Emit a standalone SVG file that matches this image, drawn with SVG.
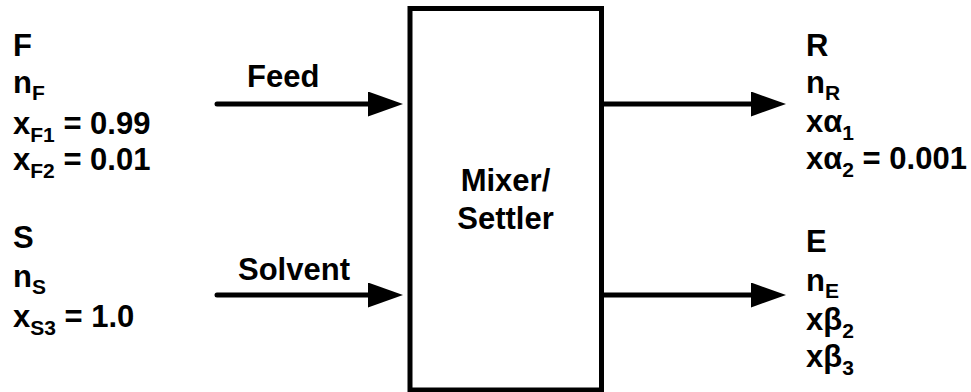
<svg xmlns="http://www.w3.org/2000/svg" width="971" height="392" viewBox="0 0 971 392">
<defs>
<style>
text{font-family:"Liberation Sans",Arial,sans-serif;font-weight:bold;fill:#000}
.t{font-size:31px}
.s{font-size:21px}
.c{text-anchor:middle}
.ln{stroke:#000;stroke-width:5;fill:none;stroke-linecap:round}
.box{stroke:#000;stroke-width:5;fill:#fff}
</style>
<marker id="ah" markerUnits="userSpaceOnUse" markerWidth="35" markerHeight="25" refX="5" refY="12.5" orient="auto">
<path d="M0,0 L35,12.5 L0,25 Z" fill="#000"/>
</marker>
</defs>
<g id="connectors">
<line class="ln" x1="217" y1="104" x2="373" y2="104" marker-end="url(#ah)"/>
<line class="ln" x1="217" y1="295" x2="373" y2="295" marker-end="url(#ah)"/>
<line class="ln" x1="604" y1="104" x2="756" y2="104" marker-end="url(#ah)"/>
<line class="ln" x1="604" y1="295" x2="756" y2="295" marker-end="url(#ah)"/>
<text class="t" x="247" y="87">Feed</text>
<text class="t" x="238" y="280">Solvent</text>
</g>
<g id="mixer-settler">
<rect class="box" x="410" y="8.5" width="191.5" height="381.5"/>
<text class="t c" x="505.5" y="191">Mixer/</text>
<text class="t c" x="505.5" y="229">Settler</text>
</g>
<g id="feed-stream">
<text class="t" x="13" y="56">F</text>
<text class="t" x="13" y="93">n<tspan class="s" dy="7">F</tspan></text>
<text class="t" x="13" y="134">x<tspan class="s" dy="8">F1</tspan><tspan dy="-8"> = 0.99</tspan></text>
<text class="t" x="13" y="170">x<tspan class="s" dy="8">F2</tspan><tspan dy="-8"> = 0.01</tspan></text>
</g>
<g id="solvent-stream">
<text class="t" x="13" y="248">S</text>
<text class="t" x="13" y="287">n<tspan class="s" dy="7">S</tspan></text>
<text class="t" x="13" y="327">x<tspan class="s" dy="8">S3</tspan><tspan dy="-8"> = 1.0</tspan></text>
</g>
<g id="raffinate-stream">
<text class="t" x="806" y="56">R</text>
<text class="t" x="806" y="93">n<tspan class="s" dy="7">R</tspan></text>
<text class="t" x="806" y="132">xα<tspan class="s" dy="8">1</tspan></text>
<text class="t" x="806" y="169">xα<tspan class="s" dy="8">2</tspan><tspan dy="-8"> = 0.001</tspan></text>
</g>
<g id="extract-stream">
<text class="t" x="806" y="252">E</text>
<text class="t" x="806" y="291">n<tspan class="s" dy="7">E</tspan></text>
<text class="t" x="806" y="330">xβ<tspan class="s" dy="8">2</tspan></text>
<text class="t" x="806" y="367">xβ<tspan class="s" dy="8">3</tspan></text>
</g>
</svg>
